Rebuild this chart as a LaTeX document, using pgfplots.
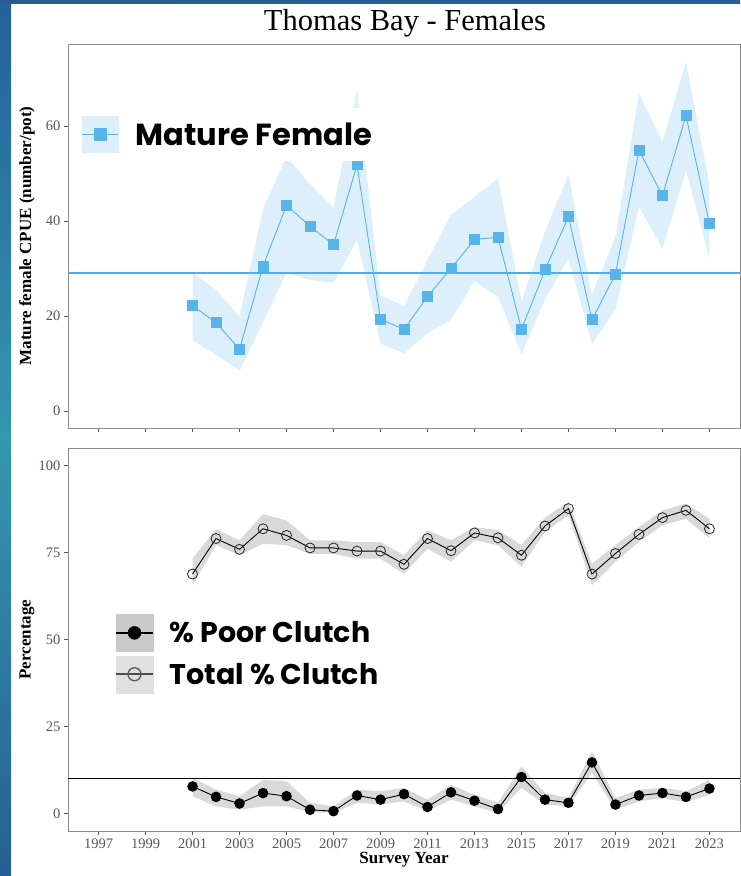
\documentclass[border=0pt]{standalone}
\usepackage{fontspec}
\setmainfont{Liberation Serif}
\newfontfamily\gothic{Poppins}
\usepackage{pgfplots}
\pgfplotsset{compat=1.18}
\usepackage{pgfplotstable}
\usepgfplotslibrary{fillbetween}

\definecolor{mfblue}{HTML}{56B4E9}
\definecolor{mfmean}{HTML}{4FAEE6}
\definecolor{mfband}{HTML}{DDEFFB}
\definecolor{clband}{HTML}{D9D9D9}
\definecolor{tickgray}{HTML}{555555}
\definecolor{framegray}{HTML}{8C8C8C}
\definecolor{slidetop}{HTML}{25609A}
\definecolor{slidemid}{HTML}{3596AF}
\definecolor{slidebot}{HTML}{275F94}

% mature female CPUE: estimate, lower and upper CI
\pgfplotstableread{
year val lo hi
2001 22.2 14.9 29.1
2002 18.6 11.8 25.5
2003 13.0 8.5 19.9
2004 30.5 18.7 42.5
2005 43.3 29.1 53.5
2006 38.9 27.6 47.8
2007 35.0 27.0 42.8
2008 51.8 36.0 67.6
2009 19.3 14.2 24.4
2010 17.2 12.1 22.1
2011 24.1 16.4 31.8
2012 30.0 19.2 41.3
2013 36.1 27.4 45.1
2014 36.6 24.1 49.0
2015 17.2 12.0 23.0
2016 29.7 23.4 37.8
2017 40.9 32.1 49.7
2018 19.2 14.1 24.4
2019 28.8 21.3 36.7
2020 54.9 43.0 66.9
2021 45.3 34.2 56.7
2022 62.2 50.7 73.5
2023 39.4 32.1 47.6
}\mature

% total % clutch
\pgfplotstableread{
year val lo hi
2001 68.8 65.6 73.3
2002 79.0 77.1 81.7
2003 75.9 74.2 78.5
2004 81.8 77.5 86.0
2005 79.9 77.1 84.2
2006 76.3 74.6 78.5
2007 76.3 74.6 78.5
2008 75.4 73.2 78.0
2009 75.4 73.2 78.0
2010 71.6 68.8 74.2
2011 79.0 76.1 81.4
2012 75.5 72.3 78.5
2013 80.6 78.5 82.3
2014 79.2 77.1 81.4
2015 74.2 70.9 77.1
2016 82.6 80.9 85.0
2017 87.6 85.7 89.5
2018 68.8 65.6 71.8
2019 74.7 72.3 77.1
2020 80.2 78.0 82.3
2021 85.0 82.8 87.1
2022 87.1 84.7 89.0
2023 81.8 79.0 84.7
}\total

% % poor clutch
\pgfplotstableread{
year val lo hi
2001 7.8 5.0 10.2
2002 4.8 2.1 6.9
2003 2.9 1.1 5.0
2004 5.9 2.1 9.7
2005 5.0 2.1 9.3
2006 1.1 0.4 3.1
2007 0.7 0.2 2.1
2008 5.2 3.1 6.9
2009 4.0 2.6 6.4
2010 5.6 3.5 7.4
2011 1.9 0.7 4.0
2012 6.1 4.0 8.3
2013 3.7 2.1 5.4
2014 1.3 0.2 3.1
2015 10.5 7.4 13.6
2016 4.0 2.6 5.9
2017 3.1 2.1 4.5
2018 14.7 11.7 17.9
2019 2.6 1.1 4.5
2020 5.2 3.5 6.9
2021 5.9 4.5 7.4
2022 4.8 3.2 6.4
2023 7.2 5.4 9.7
}\poor

% mean reference lines
\pgfplotstableread{
year cpue poor
1995.7 29.0 10.0
2024.3 29.0 10.0
}\means

\pgfplotsset{
  panel/.style={
    scale only axis, width=672pt,
    xmin=1995.7, xmax=2024.3,
    xtick={1997,1999,...,2023},
    axis line style={framegray, line width=0.8pt},
    tick style={tickgray, line width=0.6pt},
    major tick length=4pt, tick align=outside, tick pos=left,
    /pgf/number format/assume math mode=true,
    ticklabel style={font=\fontsize{14.5}{16}\selectfont, text=tickgray},
    xticklabel style={/pgf/number format/1000 sep={}},
    every axis y label/.style={at={(axis description cs:-0.061,0.5)}, rotate=90,
      anchor=center, font=\fontsize{17}{20}\selectfont\bfseries},
    every axis x label/.style={at={(axis description cs:0.5,-0.0757)},
      anchor=center, font=\fontsize{17}{20}\selectfont\bfseries},
    legend cell align=left,
  },
}

\begin{document}
\begin{tikzpicture}[x=1pt,y=1pt]
\shade[top color=slidetop, bottom color=slidebot, middle color=slidemid] (0,0) rectangle (11,-876);
\shade[left color=slidebot, right color=slidetop] (0,0) rectangle (740,-3);

\node[anchor=base, font=\fontsize{30.5}{34}\selectfont] at (405,-30) {Thomas Bay - Females};

% upper panel
\begin{axis}[panel,
  at={(68pt,-428pt)}, anchor=south west, height=384pt,
  ymin=-3.58, ymax=77.26, ytick={0,20,40,60},
  xticklabels={},
  ylabel={Mature female CPUE (number/pot)},
  legend style={at={(0.003,0.833)}, anchor=north west, fill=white, draw=none,
    inner xsep=11pt, inner ysep=8pt, nodes={inner sep=0pt},
    font=\fontsize{30.5}{34}\selectfont\gothic\bfseries},
]
\addplot[name path=mhi, draw=none, forget plot] table[x=year, y=hi]{\mature};
\addplot[name path=mlo, draw=none, forget plot] table[x=year, y=lo]{\mature};
\addplot[fill=mfband, draw=none, forget plot] fill between[of=mhi and mlo];
\addplot[draw=mfmean, line width=1.5pt, no markers, forget plot]
  table[x=year, y=cpue]{\means};
\addplot[color=mfblue, line width=0.9pt, mark=square*, mark size=5pt, forget plot]
  table[x=year, y=val]{\mature};
\addlegendimage{legend image code/.code={
  \fill[mfband] (0pt,-18pt) rectangle (36pt,18pt);
  \draw[mfblue, line width=1.4pt] (0pt,0pt) -- (36pt,0pt);
  \fill[mfblue] (12pt,-6pt) rectangle (24pt,6pt);
}}
\addlegendentry{\hspace*{17pt}Mature Female}
\end{axis}

% lower panel
\begin{axis}[panel,
  at={(68pt,-831pt)}, anchor=south west, height=383pt,
  ymin=-5, ymax=105, ytick={0,25,50,75,100},
  xlabel={Survey Year}, ylabel={Percentage},
  legend style={at={(0.0476,0.585)}, anchor=north west, fill=white, draw=none,
    inner xsep=15pt, inner ysep=7pt, nodes={inner sep=0pt}, row sep=4pt,
    font=\fontsize{28.5}{32}\selectfont\gothic\bfseries},
]
\addplot[name path=thi, draw=none, forget plot] table[x=year, y=hi]{\total};
\addplot[name path=tlo, draw=none, forget plot] table[x=year, y=lo]{\total};
\addplot[fill=clband, draw=none, forget plot] fill between[of=thi and tlo];
\addplot[name path=phi, draw=none, forget plot] table[x=year, y=hi]{\poor};
\addplot[name path=plo, draw=none, forget plot] table[x=year, y=lo]{\poor};
\addplot[fill=clband, draw=none, forget plot] fill between[of=phi and plo];
\addplot[black, line width=0.9pt, no markers, forget plot] table[x=year, y=poor]{\means};
\addplot[black, line width=0.9pt, mark=*, mark size=4.8pt, forget plot]
  table[x=year, y=val]{\poor};
\addplot[black, line width=0.9pt, mark=o, mark size=5pt,
  mark options={fill=white, draw=black!85, line width=0.8pt}, forget plot]
  table[x=year, y=val]{\total};
\addlegendimage{legend image code/.code={
  \fill[black!21] (0pt,-18.5pt) rectangle (37pt,18.5pt);
  \draw[black, line width=1.6pt] (0pt,0pt) -- (37pt,0pt);
  \fill[black] (18.5pt,0pt) circle (6.5pt);
}}
\addlegendentry{\hspace*{16pt}\% Poor Clutch}
\addlegendimage{legend image code/.code={
  \fill[black!12] (0pt,-18.5pt) rectangle (37pt,18.5pt);
  \draw[black!70, line width=1.6pt] (0pt,0pt) -- (37pt,0pt);
  \draw[black!65, line width=1.3pt] (18.5pt,0pt) circle (6.5pt);
}}
\addlegendentry{\hspace*{16pt}Total \% Clutch}
\end{axis}

\pgfresetboundingbox
\path[use as bounding box] (0,0) rectangle (740,-876);
\end{tikzpicture}
\end{document}
